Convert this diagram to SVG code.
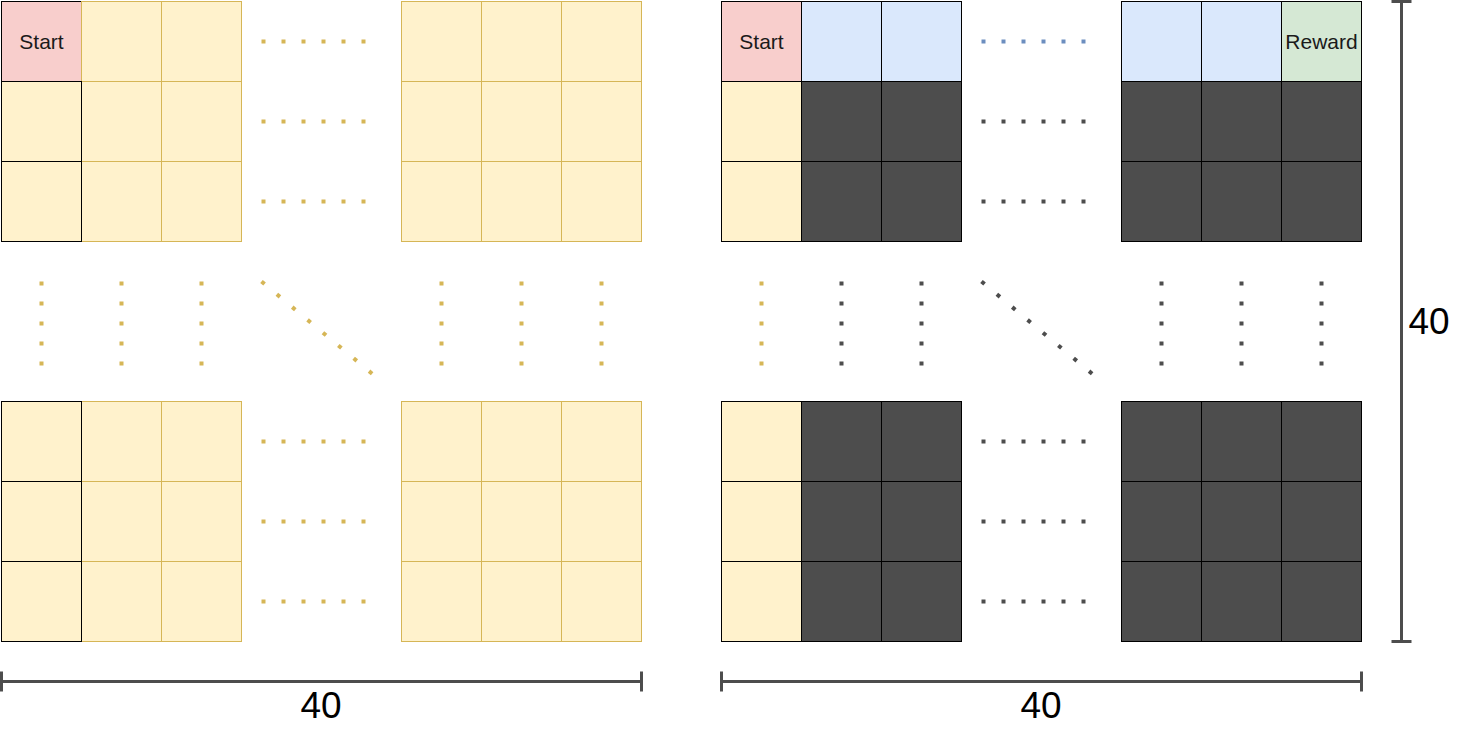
<svg xmlns="http://www.w3.org/2000/svg" width="1462" height="730" viewBox="0 0 1462 730">
<style>
rect{width:80px;height:80px;stroke-width:1}
.y{fill:#fff2cc;stroke:#d6b656}
.yk{fill:#fff2cc;stroke:#000}
.p{fill:#f8cecc;stroke:#000}
.b{fill:#dae8fc;stroke:#000}
.g{fill:#d5e8d4;stroke:#000}
.d{fill:#4d4d4d;stroke:#000}
.t{font-family:"Liberation Sans",Arial,sans-serif;font-size:21px;fill:#1a1a1a;text-anchor:middle}
.n{font-family:"Liberation Sans",Arial,sans-serif;font-size:37px;fill:#000;text-anchor:middle}
.dy{stroke:#d6b656;stroke-width:4;stroke-dasharray:4 16;fill:none}
.dk{stroke:#4d4d4d;stroke-width:4;stroke-dasharray:4 16;fill:none}
.db{stroke:#6c8ebf;stroke-width:4;stroke-dasharray:4 16;fill:none}
.dim{stroke:#4d4d4d;stroke-width:3;fill:none}
</style>
<rect x="0" y="0" width="1462" height="730" style="width:1462px;height:730px;fill:#fff;stroke:none"/>

<!-- LEFT PANEL -->
<g id="left-top-left">
<rect class="p" x="1.5" y="1.5" width="80" height="80"/>
<text class="t" x="41.5" y="49">Start</text>
<rect class="y" x="81.5" y="1.5" width="80" height="80"/>
<rect class="y" x="161.5" y="1.5" width="80" height="80"/>
<rect class="y" x="81.5" y="81.5" width="80" height="80"/>
<rect class="y" x="161.5" y="81.5" width="80" height="80"/>
<rect class="y" x="81.5" y="161.5" width="80" height="80"/>
<rect class="y" x="161.5" y="161.5" width="80" height="80"/>
<rect class="yk" x="1.5" y="81.5" width="80" height="80"/>
<rect class="yk" x="1.5" y="161.5" width="80" height="80"/>
</g>
<g id="left-top-right">
<rect class="y" x="401.5" y="1.5" width="80" height="80"/>
<rect class="y" x="481.5" y="1.5" width="80" height="80"/>
<rect class="y" x="561.5" y="1.5" width="80" height="80"/>
<rect class="y" x="401.5" y="81.5" width="80" height="80"/>
<rect class="y" x="481.5" y="81.5" width="80" height="80"/>
<rect class="y" x="561.5" y="81.5" width="80" height="80"/>
<rect class="y" x="401.5" y="161.5" width="80" height="80"/>
<rect class="y" x="481.5" y="161.5" width="80" height="80"/>
<rect class="y" x="561.5" y="161.5" width="80" height="80"/>
</g>
<g id="left-bottom-left">
<rect class="y" x="81.5" y="401.5" width="80" height="80"/>
<rect class="y" x="161.5" y="401.5" width="80" height="80"/>
<rect class="y" x="81.5" y="481.5" width="80" height="80"/>
<rect class="y" x="161.5" y="481.5" width="80" height="80"/>
<rect class="y" x="81.5" y="561.5" width="80" height="80"/>
<rect class="y" x="161.5" y="561.5" width="80" height="80"/>
<rect class="yk" x="1.5" y="401.5" width="80" height="80"/>
<rect class="yk" x="1.5" y="481.5" width="80" height="80"/>
<rect class="yk" x="1.5" y="561.5" width="80" height="80"/>
</g>
<g id="left-bottom-right">
<rect class="y" x="401.5" y="401.5" width="80" height="80"/>
<rect class="y" x="481.5" y="401.5" width="80" height="80"/>
<rect class="y" x="561.5" y="401.5" width="80" height="80"/>
<rect class="y" x="401.5" y="481.5" width="80" height="80"/>
<rect class="y" x="481.5" y="481.5" width="80" height="80"/>
<rect class="y" x="561.5" y="481.5" width="80" height="80"/>
<rect class="y" x="401.5" y="561.5" width="80" height="80"/>
<rect class="y" x="481.5" y="561.5" width="80" height="80"/>
<rect class="y" x="561.5" y="561.5" width="80" height="80"/>
</g>

<!-- RIGHT PANEL -->
<g id="right-top-left">
<rect class="p" x="721.5" y="1.5" width="80" height="80"/>
<text class="t" x="761.5" y="49">Start</text>
<rect class="b" x="801.5" y="1.5" width="80" height="80"/>
<rect class="b" x="881.5" y="1.5" width="80" height="80"/>
<rect class="yk" x="721.5" y="81.5" width="80" height="80"/>
<rect class="d" x="801.5" y="81.5" width="80" height="80"/>
<rect class="d" x="881.5" y="81.5" width="80" height="80"/>
<rect class="yk" x="721.5" y="161.5" width="80" height="80"/>
<rect class="d" x="801.5" y="161.5" width="80" height="80"/>
<rect class="d" x="881.5" y="161.5" width="80" height="80"/>
</g>
<g id="right-top-right">
<rect class="b" x="1121.5" y="1.5" width="80" height="80"/>
<rect class="b" x="1201.5" y="1.5" width="80" height="80"/>
<rect class="g" x="1281.5" y="1.5" width="80" height="80"/>
<text class="t" x="1321.5" y="49">Reward</text>
<rect class="d" x="1121.5" y="81.5" width="80" height="80"/>
<rect class="d" x="1201.5" y="81.5" width="80" height="80"/>
<rect class="d" x="1281.5" y="81.5" width="80" height="80"/>
<rect class="d" x="1121.5" y="161.5" width="80" height="80"/>
<rect class="d" x="1201.5" y="161.5" width="80" height="80"/>
<rect class="d" x="1281.5" y="161.5" width="80" height="80"/>
</g>
<g id="right-bottom-left">
<rect class="yk" x="721.5" y="401.5" width="80" height="80"/>
<rect class="d" x="801.5" y="401.5" width="80" height="80"/>
<rect class="d" x="881.5" y="401.5" width="80" height="80"/>
<rect class="yk" x="721.5" y="481.5" width="80" height="80"/>
<rect class="d" x="801.5" y="481.5" width="80" height="80"/>
<rect class="d" x="881.5" y="481.5" width="80" height="80"/>
<rect class="yk" x="721.5" y="561.5" width="80" height="80"/>
<rect class="d" x="801.5" y="561.5" width="80" height="80"/>
<rect class="d" x="881.5" y="561.5" width="80" height="80"/>
</g>
<g id="right-bottom-right">
<rect class="d" x="1121.5" y="401.5" width="80" height="80"/>
<rect class="d" x="1201.5" y="401.5" width="80" height="80"/>
<rect class="d" x="1281.5" y="401.5" width="80" height="80"/>
<rect class="d" x="1121.5" y="481.5" width="80" height="80"/>
<rect class="d" x="1201.5" y="481.5" width="80" height="80"/>
<rect class="d" x="1281.5" y="481.5" width="80" height="80"/>
<rect class="d" x="1121.5" y="561.5" width="80" height="80"/>
<rect class="d" x="1201.5" y="561.5" width="80" height="80"/>
<rect class="d" x="1281.5" y="561.5" width="80" height="80"/>
</g>

<g id="connectors">
<!-- left panel dotted -->
<line class="dy" x1="261.5" y1="41.5" x2="381.5" y2="41.5"/>
<line class="dy" x1="261.5" y1="121.5" x2="381.5" y2="121.5"/>
<line class="dy" x1="261.5" y1="201.5" x2="381.5" y2="201.5"/>
<line class="dy" x1="261.5" y1="441.5" x2="381.5" y2="441.5"/>
<line class="dy" x1="261.5" y1="521.5" x2="381.5" y2="521.5"/>
<line class="dy" x1="261.5" y1="601.5" x2="381.5" y2="601.5"/>
<line class="dy" x1="41.5" y1="281.5" x2="41.5" y2="381.5"/>
<line class="dy" x1="121.5" y1="281.5" x2="121.5" y2="381.5"/>
<line class="dy" x1="201.5" y1="281.5" x2="201.5" y2="381.5"/>
<line class="dy" x1="441.5" y1="281.5" x2="441.5" y2="381.5"/>
<line class="dy" x1="521.5" y1="281.5" x2="521.5" y2="381.5"/>
<line class="dy" x1="601.5" y1="281.5" x2="601.5" y2="381.5"/>
<line class="dy" x1="261.5" y1="281.5" x2="381.5" y2="381.5"/>
<!-- right panel dotted -->
<line class="db" x1="981.5" y1="41.5" x2="1101.5" y2="41.5"/>
<line class="dk" x1="981.5" y1="121.5" x2="1101.5" y2="121.5"/>
<line class="dk" x1="981.5" y1="201.5" x2="1101.5" y2="201.5"/>
<line class="dk" x1="981.5" y1="441.5" x2="1101.5" y2="441.5"/>
<line class="dk" x1="981.5" y1="521.5" x2="1101.5" y2="521.5"/>
<line class="dk" x1="981.5" y1="601.5" x2="1101.5" y2="601.5"/>
<line class="dy" x1="761.5" y1="281.5" x2="761.5" y2="381.5"/>
<line class="dk" x1="841.5" y1="281.5" x2="841.5" y2="381.5"/>
<line class="dk" x1="921.5" y1="281.5" x2="921.5" y2="381.5"/>
<line class="dk" x1="1161.5" y1="281.5" x2="1161.5" y2="381.5"/>
<line class="dk" x1="1241.5" y1="281.5" x2="1241.5" y2="381.5"/>
<line class="dk" x1="1321.5" y1="281.5" x2="1321.5" y2="381.5"/>
<line class="dk" x1="981.5" y1="281.5" x2="1101.5" y2="381.5"/>
</g>

<g id="dimension-left">
<line class="dim" x1="1.5" y1="681.5" x2="641.5" y2="681.5"/>
<line class="dim" x1="1.5" y1="671.5" x2="1.5" y2="691.5"/>
<line class="dim" x1="641.5" y1="671.5" x2="641.5" y2="691.5"/>
<text class="n" x="321" y="718">40</text>
</g>
<g id="dimension-right">
<line class="dim" x1="721.5" y1="681.5" x2="1361.5" y2="681.5"/>
<line class="dim" x1="721.5" y1="671.5" x2="721.5" y2="691.5"/>
<line class="dim" x1="1361.5" y1="671.5" x2="1361.5" y2="691.5"/>
<text class="n" x="1041" y="718">40</text>
</g>
<g id="dimension-vertical">
<line class="dim" x1="1401.5" y1="1.5" x2="1401.5" y2="641.5"/>
<line class="dim" x1="1391.5" y1="1.5" x2="1411.5" y2="1.5"/>
<line class="dim" x1="1391.5" y1="641.5" x2="1411.5" y2="641.5"/>
<text class="n" x="1429" y="334">40</text>
</g>
</svg>
